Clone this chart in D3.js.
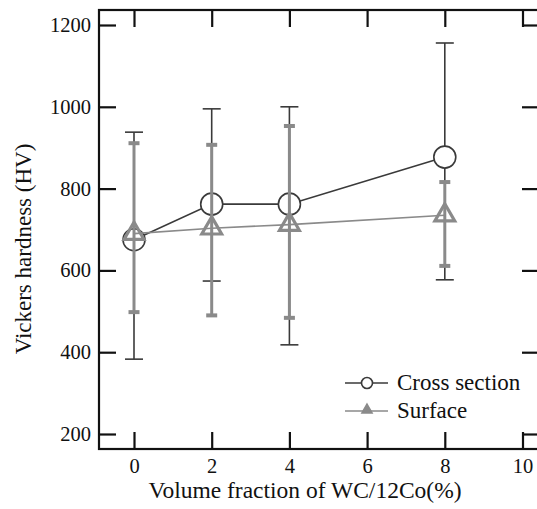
<!DOCTYPE html>
<html>
<head>
<meta charset="utf-8">
<script src="https://cdn.jsdelivr.net/npm/d3@7"></script>
<style>
  body { margin: 0; background: #fff; }
</style>
</head>
<body>
<svg id="chart" width="537" height="509"></svg>
<script>
// data
const fractions = [0, 2, 4, 8];
const crossMean = [675, 762, 762, 877];
const crossLow = [383, 574, 418, 577];
const crossHigh = [938, 995, 1000, 1156];
const surfMean = [690, 703, 712, 735];
const surfLow = [498, 490, 484, 611];
const surfHigh = [911, 907, 953, 816];
const xTicks = [0, 2, 4, 6, 8, 10];
const yTicks = [200, 400, 600, 800, 1000, 1200];

const serif = "Liberation Serif";
const svg = d3.select("#chart");

// frame edges
const frameL = 99, frameR = 539, frameT = 10, frameB = 449;

const x = d3.scaleLinear().domain([0, 10]).range([134, 522.5]);
const y = d3.scaleLinear().domain([200, 1200]).range([434, 25]);

const dark = "#3a3a3a";
const grey = "#8a8a8a";

// axes with inward ticks
const tickLen = 17;
svg.append("g")
  .attr("transform", `translate(0,${frameB})`)
  .call(d3.axisBottom(x).tickValues(xTicks).tickSizeInner(-tickLen).tickSizeOuter(0).tickPadding(9).tickFormat(d3.format("d")))
  .call(g => g.select(".domain").remove());
svg.append("g")
  .attr("transform", `translate(0,${frameT})`)
  .call(d3.axisTop(x).tickValues(xTicks).tickSizeInner(-tickLen).tickSizeOuter(0).tickFormat(""))
  .call(g => g.select(".domain").remove());
svg.append("g")
  .attr("transform", `translate(${frameL},0)`)
  .call(d3.axisLeft(y).tickValues(yTicks).tickSizeInner(-tickLen).tickSizeOuter(0).tickPadding(8).tickFormat(d3.format("d")))
  .call(g => g.select(".domain").remove());
svg.append("g")
  .attr("transform", `translate(${frameR},0)`)
  .call(d3.axisRight(y).tickValues(yTicks).tickSizeInner(-tickLen).tickSizeOuter(0).tickFormat(""))
  .call(g => g.select(".domain").remove());

svg.selectAll("g").attr("font-family", null);
svg.selectAll(".tick line").attr("stroke", "#111").attr("stroke-width", 2.2);
svg.selectAll(".tick text")
  .attr("font-family", serif).style("font-family", serif)
  .style("font-size", "20.5px").attr("fill", "#111");

svg.append("rect")
  .attr("x", frameL).attr("y", frameT)
  .attr("width", frameR - frameL).attr("height", frameB - frameT)
  .attr("fill", "none").attr("stroke", "#111").attr("stroke-width", 2.2);

// axis titles
svg.append("text")
  .attr("x", 305).attr("y", 498)
  .attr("text-anchor", "middle")
  .style("font-family", serif).style("font-size", "23.5px").attr("fill", "#111")
  .text("Volume fraction of WC/12Co(%)");
svg.append("text")
  .attr("transform", "translate(31,249) rotate(-90)")
  .attr("text-anchor", "middle")
  .style("font-family", serif).style("font-size", "23px").attr("fill", "#111")
  .text("Vickers hardness (HV)");

const idx = d3.range(fractions.length);

// cross section error bars
const crossErr = svg.append("g").attr("stroke", dark).attr("stroke-width", 1.6);
crossErr.selectAll("line.v").data(idx).join("line").attr("class", "v")
  .attr("x1", i => x(fractions[i])).attr("x2", i => x(fractions[i]))
  .attr("y1", i => y(crossLow[i])).attr("y2", i => y(crossHigh[i]));
crossErr.selectAll("line.hi").data(idx).join("line").attr("class", "hi")
  .attr("x1", i => x(fractions[i]) - 9).attr("x2", i => x(fractions[i]) + 9)
  .attr("y1", i => y(crossHigh[i])).attr("y2", i => y(crossHigh[i]));
crossErr.selectAll("line.lo").data(idx).join("line").attr("class", "lo")
  .attr("x1", i => x(fractions[i]) - 9).attr("x2", i => x(fractions[i]) + 9)
  .attr("y1", i => y(crossLow[i])).attr("y2", i => y(crossLow[i]));

// cross section line + circles
const crossLine = d3.line().x(i => x(fractions[i])).y(i => y(crossMean[i]));
svg.append("path").datum(idx)
  .attr("d", crossLine)
  .attr("fill", "none").attr("stroke", dark).attr("stroke-width", 1.6);
svg.append("g").selectAll("circle").data(idx).join("circle")
  .attr("cx", i => x(fractions[i])).attr("cy", i => y(crossMean[i]))
  .attr("r", 11)
  .attr("fill", "#fff").attr("stroke", dark).attr("stroke-width", 1.6);

// surface error bars
const surfErr = svg.append("g").attr("stroke", grey);
surfErr.selectAll("line.v").data(idx).join("line").attr("class", "v")
  .attr("stroke-width", 3)
  .attr("x1", i => x(fractions[i])).attr("x2", i => x(fractions[i]))
  .attr("y1", i => y(surfLow[i])).attr("y2", i => y(surfHigh[i]));
surfErr.selectAll("line.hi").data(idx).join("line").attr("class", "hi")
  .attr("stroke-width", 4)
  .attr("x1", i => x(fractions[i]) - 5.5).attr("x2", i => x(fractions[i]) + 5.5)
  .attr("y1", i => y(surfHigh[i])).attr("y2", i => y(surfHigh[i]));
surfErr.selectAll("line.lo").data(idx).join("line").attr("class", "lo")
  .attr("stroke-width", 4)
  .attr("x1", i => x(fractions[i]) - 5.5).attr("x2", i => x(fractions[i]) + 5.5)
  .attr("y1", i => y(surfLow[i])).attr("y2", i => y(surfLow[i]));

// surface line + triangles
const surfLine = d3.line().x(i => x(fractions[i])).y(i => y(surfMean[i]));
svg.append("path").datum(idx)
  .attr("d", surfLine)
  .attr("fill", "none").attr("stroke", grey).attr("stroke-width", 1.6);
const tri = d3.symbol().type(d3.symbolTriangle).size(170);
svg.append("g").selectAll("path").data(idx).join("path")
  .attr("transform", i => `translate(${x(fractions[i])},${y(surfMean[i])})`)
  .attr("d", tri)
  .attr("fill", "none").attr("stroke", grey).attr("stroke-width", 3.2);

// legend
const legend = svg.append("g");
const legendItems = [
  { label: "Cross section", color: dark, y: 383 },
  { label: "Surface", color: grey, y: 411 }
];
legend.selectAll("line").data(legendItems).join("line")
  .attr("x1", 345).attr("x2", 388)
  .attr("y1", d => d.y).attr("y2", d => d.y)
  .attr("stroke", d => d.color).attr("stroke-width", 1.6);
legend.append("circle")
  .attr("cx", 367).attr("cy", legendItems[0].y).attr("r", 5.5)
  .attr("fill", "#fff").attr("stroke", dark).attr("stroke-width", 1.6);
legend.append("path")
  .attr("transform", `translate(367,${legendItems[1].y - 1})`)
  .attr("d", d3.symbol().type(d3.symbolTriangle).size(45))
  .attr("fill", grey).attr("stroke", grey).attr("stroke-width", 1.5);
legend.selectAll("text").data(legendItems).join("text")
  .attr("x", 397).attr("y", d => d.y + 7)
  .style("font-family", serif).style("font-size", "23px").attr("fill", "#111")
  .text(d => d.label);
</script>
</body>
</html>
